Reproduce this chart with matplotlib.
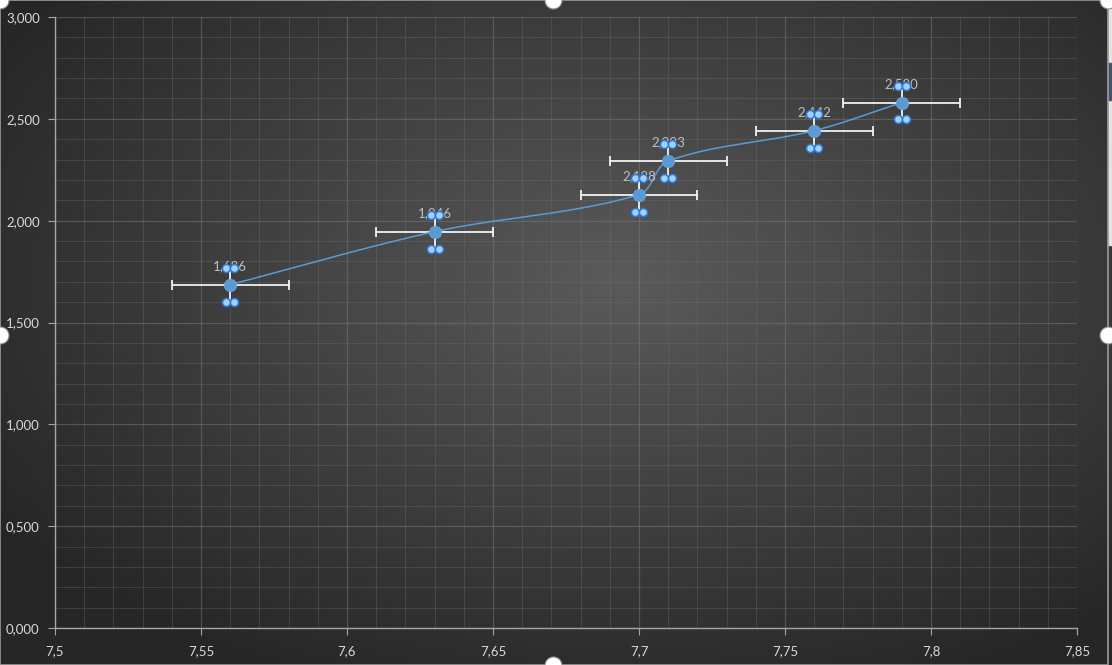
import matplotlib.pyplot as plt
import numpy as np
from matplotlib.ticker import MultipleLocator, FuncFormatter
from matplotlib.patches import Rectangle

plt.rcParams['font.family'] = ['Lato', 'DejaVu Sans']

# data
x_vals = [7.56, 7.63, 7.70, 7.71, 7.76, 7.79]
y_vals = [1.686, 1.946, 2.128, 2.293, 2.442, 2.580]
x_err = 0.02
y_err = 0.083
labels = ["1,686", "1,946", "2,128", "2,293", "2,442", "2,580"]

W, H = 1112, 665
fig = plt.figure(figsize=(W / 100, H / 100), dpi=100)

# radial gradient background, Excel-like
bg = fig.add_axes([0, 0, 1, 1], zorder=-10)
gx, gy = np.meshgrid(np.linspace(0, 1, 400), np.linspace(0, 1, 240))
r = np.sqrt(((gx - 0.56) / 0.75) ** 2 + ((gy - 0.42) / 0.75) ** 2)
v = np.clip(0.355 - 0.23 * r, 0.15, 0.36)
bg.imshow(np.dstack([v, v, v]), extent=[0, 1, 0, 1], aspect='auto', origin='upper')
bg.set_xlim(0, 1)
bg.set_ylim(0, 1)
bg.axis('off')

# chart frame, sheet sliver on the right and selection handles
bg.add_patch(Rectangle((1108 / W, 1 - 245 / H), 4 / W, 245 / H, color='#e4e4e4', zorder=2))
bg.add_patch(Rectangle((1108 / W, 1 - 100 / H), 4 / W, 37 / H, color='#44546a', zorder=2))
bg.add_patch(Rectangle((0, 0), 1108 / W, 1, fill=False, edgecolor='#9a9a9a', lw=1.2, zorder=3))
hx = np.array([553, 0, 1108, 553, 0, 1108]) / W
hy = 1 - np.array([0, 335, 335, 665, 0, 0]) / H
bg.scatter(hx, hy, s=150, color='white', edgecolor='#8a8a8a', linewidth=0.8,
           zorder=4, clip_on=False)

x0, x1, y0, y1 = 7.5, 7.85, 0.0, 3.0
ax = fig.add_axes([55 / W, 37 / H, 1022 / W, 611 / H])
ax.set_facecolor('none')
ax.set_xlim(x0, x1)
ax.set_ylim(y0, y1)

for s in ['top', 'right']:
    ax.spines[s].set_visible(False)
for s in ['left', 'bottom']:
    ax.spines[s].set_color('#a6a6a6')
    ax.spines[s].set_linewidth(1)

ax.xaxis.set_major_locator(MultipleLocator(0.05))
ax.xaxis.set_minor_locator(MultipleLocator(0.01))
ax.yaxis.set_major_locator(MultipleLocator(0.5))
ax.yaxis.set_minor_locator(MultipleLocator(0.1))
ax.xaxis.set_major_formatter(FuncFormatter(lambda v, p: f"{v:.2f}".rstrip('0').replace('.', ',')))
ax.yaxis.set_major_formatter(FuncFormatter(lambda v, p: f"{v:.3f}".replace('.', ',')))
ax.tick_params(which='major', colors='#a6a6a6', labelcolor='#d9d9d9', labelsize=9.5, length=5)
ax.tick_params(axis='x', which='major', pad=7)
ax.tick_params(axis='y', which='major', pad=6)
ax.tick_params(which='minor', length=0)
ax.grid(which='major', color='#808080', linewidth=0.9, alpha=0.45)
ax.grid(which='minor', color='#707070', linewidth=0.7, alpha=0.35)
ax.set_axisbelow(True)

# smoothed line (Bezier segments, tangents from neighbours, computed in pixel space)
sx = 1022 / (x1 - x0)
sy = 611 / (y1 - y0)
P = np.column_stack([(np.array(x_vals) - x0) * sx, (np.array(y_vals) - y0) * sy])
n = len(P)
tang = []
for i in range(n):
    d = P[min(i + 1, n - 1)] - P[max(i - 1, 0)]
    tang.append(d / np.linalg.norm(d))
pts = []
for i in range(n - 1):
    p1, p2 = P[i], P[i + 1]
    L = np.linalg.norm(p2 - p1)
    c1 = p1 + tang[i] * L / 3
    c2 = p2 - tang[i + 1] * L / 3
    t = np.linspace(0, 1, 40)[:, None]
    seg = (1 - t) ** 3 * p1 + 3 * (1 - t) ** 2 * t * c1 + 3 * (1 - t) * t ** 2 * c2 + t ** 3 * p2
    pts.append(seg)
curve = np.vstack(pts)
ax.plot(curve[:, 0] / sx + x0, curve[:, 1] / sy + y0, color='#5b9bd5', lw=1.1, zorder=3)

# error bars
ax.errorbar(x_vals, y_vals, xerr=x_err, fmt='none', ecolor='white',
            elinewidth=1.2, capsize=3.5, capthick=1.2, zorder=2)
ax.errorbar(x_vals, y_vals, yerr=y_err, fmt='none', ecolor='white', elinewidth=1.2, zorder=2)

# markers
ax.scatter(x_vals, y_vals, s=80, color='#5b9bd5', edgecolor='#6fa8dc', linewidth=0.5, zorder=5)

# data labels
for xv, yv, lab in zip(x_vals, y_vals, labels):
    ax.annotate(lab, (xv, yv), xytext=(0, 9), textcoords='offset points',
                ha='center', va='bottom', color='#bfbfbf', fontsize=9.5, zorder=4)

# selection handles at vertical error bar ends
dx = 4 / sx
for xv, yv in zip(x_vals, y_vals):
    for yy in (yv + y_err, yv - y_err):
        ax.scatter([xv - dx, xv + dx], [yy, yy], s=34, color='#9fd3ff',
                   edgecolor='#2e75d6', linewidth=1.1, zorder=6)

fig.savefig('out.png', dpi=100)
